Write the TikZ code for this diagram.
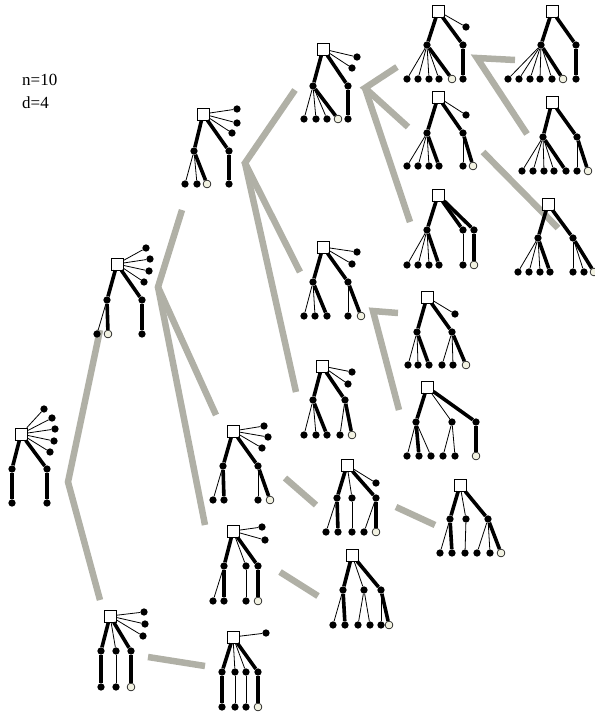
\documentclass[tikz,border=0pt]{standalone}
\usepackage{fontspec}
\setmainfont{Liberation Serif}
\usepackage{tikz}
\usetikzlibrary{arrows.meta, positioning, calc}

\definecolor{branchgray}{HTML}{B0B0A6}
\definecolor{leafcream}{HTML}{F2F2E2}

% children of a node: name/x/y/node style/edge style
\newcommand\kids[2]{%
  \foreach \k/\x/\y/\ns/\es in {#2}{%
    \node[\ns] (#1-\k) at (\x,\y) {};
    \draw[\es] (#1) -- (#1-\k);
  }}

\begin{document}
\begin{tikzpicture}[
  x=1pt, y=-1pt,
  rootbox/.style={draw, fill=white, rectangle, minimum size=12pt, inner sep=0pt, line width=0.7pt},
  leaf/.style={circle, fill=black, minimum size=7.3pt, inner sep=0pt},
  hollow/.style={circle, draw, fill=leafcream, minimum size=7.8pt, inner sep=0pt, line width=0.6pt},
  fat/.style={line width=3.6pt},
  slim/.style={line width=0.8pt},
  branch/.style={draw=branchgray, line width=6.5pt}
]
\useasboundingbox (0,0) rectangle (594,714);

% grey branch lines
\coordinate (g1) at (100,330); \coordinate (g2) at (68,482); \coordinate (g3) at (100,600);
\coordinate (g4) at (182,210); \coordinate (g5) at (158,287); \coordinate (g6) at (216,415); \coordinate (g7) at (205,525);
\coordinate (g8) at (295,90); \coordinate (g9) at (245,163); \coordinate (g10) at (300,272); \coordinate (g11) at (296,392);
\coordinate (g12) at (397,67); \coordinate (g13) at (365,88); \coordinate (g14) at (408,127); \coordinate (g15) at (410,222);
\coordinate (g16) at (515,60); \coordinate (g17) at (477,58); \coordinate (g18) at (527,134);
\coordinate (g19) at (483,152); \coordinate (g20) at (558,228);
\coordinate (g21) at (398,313); \coordinate (g22) at (373,311); \coordinate (g23) at (399,410);
\coordinate (g24) at (285,478); \coordinate (g25) at (316,505);
\coordinate (g26) at (396,507); \coordinate (g27) at (435,525);
\coordinate (g28) at (280,572); \coordinate (g29) at (318,596);
\coordinate (g30) at (148,657); \coordinate (g31) at (205,666);
\draw[branch] (g1) -- (g2) -- (g3);
\draw[branch] (g4) -- (g5) -- (g6);
\draw[branch] (g5) -- (g7);
\draw[branch] (g8) -- (g9) -- (g10);
\draw[branch] (g9) -- (g11);
\draw[branch] (g12) -- (g13) -- (g14);
\draw[branch] (g13) -- (g15);
\draw[branch] (g16) -- (g17) -- (g18);
\draw[branch] (g19) -- (g20);
\draw[branch] (g21) -- (g22) -- (g23);
\draw[branch] (g24) -- (g25);
\draw[branch] (g26) -- (g27);
\draw[branch] (g28) -- (g29);
\draw[branch] (g30) -- (g31);

% labels
\node[anchor=west, inner sep=0pt, font=\fontsize{17}{20}\selectfont] (nlab) at (22,80) {n=10};
\node[anchor=west, inner sep=0pt, font=\fontsize{17}{20}\selectfont] (dlab) at (22,103) {d=4};

% tree 1
\node[rootbox] (r1) at (21,434) {};
\kids{r1}{1/44/409/leaf/slim, 2/52/418/leaf/slim, 3/55/429/leaf/slim, 4/54/441/leaf/slim, 5/50/452/leaf/slim, a/12/469/leaf/fat, b/47/469/leaf/fat}
\kids{r1-a}{1/12/503/leaf/fat}
\kids{r1-b}{1/47/503/leaf/fat}

% tree 2
\node[rootbox] (r2) at (117,264) {};
\kids{r2}{1/146/248/leaf/slim, 2/150/259/leaf/slim, 3/149/271/leaf/slim, 4/144/282/leaf/slim, a/107/300/leaf/fat, b/142/300/leaf/fat}
\kids{r2-a}{1/97/334/leaf/slim, 2/108/334/hollow/fat}
\kids{r2-b}{1/142/334/leaf/fat}

% tree 3
\node[rootbox] (r3) at (203,114) {};
\kids{r3}{1/237/109/leaf/slim, 2/237/123/leaf/slim, 3/232/133/leaf/slim, a/194/151/leaf/fat, b/229/151/leaf/fat}
\kids{r3-a}{1/185/184/leaf/slim, 2/197/184/leaf/slim, 3/207/184/hollow/fat}
\kids{r3-b}{1/229/184/leaf/fat}

% tree 4
\node[rootbox] (r4) at (323,49) {};
\kids{r4}{1/357/57/leaf/slim, 2/352/68/leaf/slim, a/313/86/leaf/fat, b/348/86/leaf/fat}
\kids{r4-a}{1/304/119/leaf/slim, 2/316/119/leaf/slim, 3/327/119/leaf/slim, 4/338/119/hollow/fat}
\kids{r4-b}{1/348/119/leaf/fat}

% tree 5
\node[rootbox] (r5) at (438,11) {};
\kids{r5}{1/466/27/leaf/slim, a/427/45/leaf/fat, b/463/45/leaf/fat}
\kids{r5-a}{1/407/79/leaf/slim, 2/418/79/leaf/slim, 3/429/79/leaf/slim, 4/439/79/leaf/slim, 5/452/79/hollow/fat}
\kids{r5-b}{1/463/79/leaf/fat}

% tree 6
\node[rootbox] (r6) at (552,11) {};
\kids{r6}{a/541/45/leaf/fat, b/576/45/leaf/fat}
\kids{r6-a}{1/508/79/leaf/slim, 2/519/79/leaf/slim, 3/530/79/leaf/slim, 4/540/79/leaf/slim, 5/552/79/leaf/slim, 6/563/79/hollow/fat}
\kids{r6-b}{1/576/79/leaf/fat}

% tree 7
\node[rootbox] (r7) at (438,97) {};
\kids{r7}{1/466/115/leaf/slim, a/427/133/leaf/fat, b/463/133/leaf/fat}
\kids{r7-a}{1/407/166/leaf/slim, 2/418/166/leaf/slim, 3/429/166/leaf/slim, 4/439/166/leaf/fat}
\kids{r7-b}{1/463/166/leaf/slim, 2/473/166/hollow/fat}

% tree 8
\node[rootbox] (r8) at (552,102) {};
\kids{r8}{a/543/137/leaf/fat, b/577/137/leaf/fat}
\kids{r8-a}{1/522/171/leaf/slim, 2/533/171/leaf/slim, 3/544/171/leaf/slim, 4/554/171/leaf/slim, 5/566/171/leaf/fat}
\kids{r8-b}{1/577/171/leaf/slim, 2/588/171/hollow/fat}

% tree 9
\node[rootbox] (r9) at (438,195) {};
\kids{r9}{a/427/230/leaf/fat, b/463/230/leaf/fat, c/474/230/leaf/fat}
\kids{r9-a}{1/407/265/leaf/slim, 2/418/265/leaf/slim, 3/429/265/leaf/slim, 4/439/265/leaf/fat}
\kids{r9-b}{1/463/265/leaf/slim}
\kids{r9-c}{1/474/265/hollow/fat}

% tree 10
\node[rootbox] (r10) at (548,204) {};
\kids{r10}{a/538/238/leaf/fat, b/573/238/leaf/fat}
\kids{r10-a}{1/518/272/leaf/slim, 2/529/272/leaf/slim, 3/540/272/leaf/slim, 4/550/272/leaf/fat}
\kids{r10-b}{1/573/272/leaf/slim, 2/584/272/leaf/slim, 3/594/272/hollow/fat}

% tree 11
\node[rootbox] (r11) at (323,247) {};
\kids{r11}{1/357/252/leaf/slim, 2/352/264/leaf/slim, a/313/282/leaf/fat, b/348/282/leaf/fat}
\kids{r11-a}{1/304/316/leaf/slim, 2/315/316/leaf/slim, 3/327/316/leaf/fat}
\kids{r11-b}{1/348/316/leaf/slim, 2/361/316/hollow/fat}

% tree 12
\node[rootbox] (r12) at (427,297) {};
\kids{r12}{1/455/314/leaf/slim, a/417/332/leaf/fat, b/452/332/leaf/fat}
\kids{r12-a}{1/408/365/leaf/slim, 2/418/365/leaf/slim, 3/429/365/leaf/fat}
\kids{r12-b}{1/442/365/leaf/slim, 2/453/365/leaf/slim, 3/466/365/hollow/fat}

% tree 13
\node[rootbox] (r13) at (322,366) {};
\kids{r13}{1/352/372/leaf/slim, 2/348/384/leaf/slim, a/313/400/leaf/fat, b/345/400/leaf/fat}
\kids{r13-a}{1/304/435/leaf/slim, 2/316/435/leaf/slim, 3/327/435/leaf/fat}
\kids{r13-b}{1/340/435/leaf/slim, 2/352/435/hollow/fat}

% tree 14
\node[rootbox] (r14) at (427,387) {};
\kids{r14}{a/416/422/leaf/fat, b/452/422/leaf/slim, c/476/422/leaf/fat}
\kids{r14-a}{1/407/456/leaf/slim, 2/419/456/leaf/fat, 3/431/456/leaf/slim}
\kids{r14-b}{1/443/456/leaf/slim, 2/455/456/leaf/slim}
\kids{r14-c}{1/476/456/hollow/fat}

% tree 15
\node[rootbox] (r15) at (233,431) {};
\kids{r15}{1/264/426/leaf/slim, 2/268/437/leaf/slim, 3/262/448/leaf/slim, a/223/466/leaf/fat, b/258/466/leaf/fat}
\kids{r15-a}{1/213/500/leaf/slim, 2/224/500/leaf/fat}
\kids{r15-b}{1/258/500/leaf/slim, 2/270/500/hollow/fat}

% tree 16
\node[rootbox] (r16) at (347,465) {};
\kids{r16}{1/376/483/leaf/slim, a/337/498/leaf/fat, b/352/498/leaf/slim, c/376/498/leaf/fat}
\kids{r16-a}{1/326/532/leaf/slim, 2/338/532/leaf/fat}
\kids{r16-b}{1/352/532/leaf/slim}
\kids{r16-c}{1/364/532/leaf/slim, 2/376/532/hollow/fat}

% tree 17
\node[rootbox] (r17) at (460,485) {};
\kids{r17}{a/450/519/leaf/fat, b/466/519/leaf/slim, c/488/519/leaf/fat}
\kids{r17-a}{1/440/553/leaf/slim, 2/452/553/leaf/fat}
\kids{r17-b}{1/465/553/leaf/slim}
\kids{r17-c}{1/477/553/leaf/slim, 2/490/553/leaf/slim, 3/501/553/hollow/fat}

% tree 18
\node[rootbox] (r18) at (233,531) {};
\kids{r18}{1/262/527/leaf/slim, 2/265/540/leaf/slim, a/224/566/leaf/fat, b/246/566/leaf/slim, c/258/566/leaf/fat}
\kids{r18-a}{1/213/601/leaf/slim, 2/224/601/leaf/fat}
\kids{r18-b}{1/246/601/leaf/slim}
\kids{r18-c}{1/258/601/hollow/fat}

% tree 19
\node[rootbox] (r19) at (352,555) {};
\kids{r19}{a/343/590/leaf/fat, b/364/590/leaf/slim, c/381/590/leaf/fat}
\kids{r19-a}{1/333/625/leaf/slim, 2/345/625/leaf/fat}
\kids{r19-b}{1/358/625/leaf/slim, 2/370/625/leaf/slim}
\kids{r19-c}{1/381/625/leaf/slim, 2/389/625/hollow/fat}

% tree 20
\node[rootbox] (r20) at (110,616) {};
\kids{r20}{1/144/612/leaf/slim, 2/145/624/leaf/slim, 3/143/636/leaf/slim, a/101/651/leaf/fat, b/116/651/leaf/slim, c/131/651/leaf/fat}
\kids{r20-a}{1/101/687/leaf/fat}
\kids{r20-b}{1/116/687/leaf/slim}
\kids{r20-c}{1/131/687/hollow/fat}

% tree 21
\node[rootbox] (r21) at (233,637) {};
\kids{r21}{1/266/633/leaf/slim, a/222/672/leaf/fat, b/235/672/leaf/slim, c/246/672/leaf/slim, d/258/672/leaf/fat}
\kids{r21-a}{1/222/707/leaf/fat}
\kids{r21-b}{1/235/707/leaf/slim}
\kids{r21-c}{1/246/707/leaf/slim}
\kids{r21-d}{1/258/707/hollow/fat}
\end{tikzpicture}
\end{document}
